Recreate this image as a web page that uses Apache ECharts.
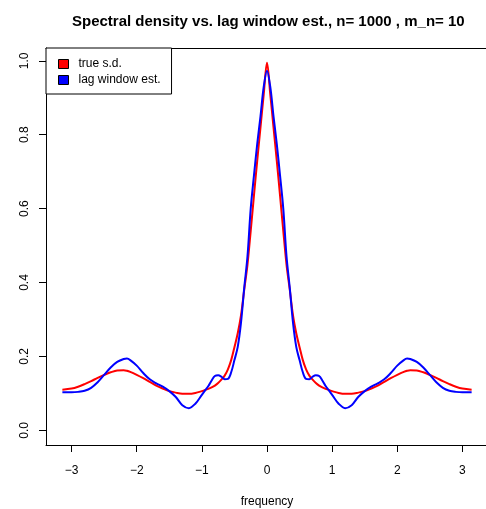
<!DOCTYPE html>
<html>
<head>
<meta charset="utf-8">
<script src="https://cdn.jsdelivr.net/npm/echarts@6/dist/echarts.min.js"></script>
<style>html,body{margin:0;padding:0;background:#fff;}#c{width:486px;height:509px;}</style>
</head>
<body>
<div id="c"></div>
<script>
// frequencies (positive half; curves are symmetric about 0)
const freqHalf = [0, 0.05, 0.1, 0.15, 0.2, 0.25, 0.3, 0.35, 0.4, 0.45, 0.5, 0.55, 0.6, 0.65, 0.7, 0.75, 0.8, 0.85, 0.9, 0.95, 1.0, 1.1, 1.2, 1.3, 1.4, 1.5, 1.6, 1.7, 1.8, 1.9, 2.0, 2.1, 2.15, 2.2, 2.3, 2.4, 2.5, 2.6, 2.7, 2.8, 2.9, 3.0, 3.1416];
const trueSD = [0.995, 0.91, 0.82, 0.73, 0.636, 0.54, 0.448, 0.38, 0.31, 0.262, 0.225, 0.19, 0.165, 0.148, 0.137, 0.128, 0.121, 0.116, 0.112, 0.109, 0.106, 0.101, 0.0986, 0.099, 0.102, 0.106, 0.113, 0.121, 0.131, 0.141, 0.150, 0.158, 0.161, 0.1626, 0.162, 0.157, 0.150, 0.142, 0.133, 0.125, 0.118, 0.113, 0.110];
const lagEst = [0.973, 0.93, 0.85, 0.775, 0.69, 0.60, 0.47, 0.385, 0.29, 0.225, 0.19, 0.157, 0.139, 0.138, 0.145, 0.149, 0.147, 0.135, 0.12, 0.108, 0.096, 0.072, 0.06, 0.068, 0.09, 0.106, 0.118, 0.127, 0.138, 0.155, 0.175, 0.19, 0.194, 0.193, 0.185, 0.17, 0.15, 0.13, 0.115, 0.107, 0.104, 0.103, 0.103];
const xTicks = [-3, -2, -1, 0, 1, 2, 3];
const yTicks = [0, 0.2, 0.4, 0.6, 0.8, 1.0];
const seriesNames = ['true s.d.', 'lag window est.'];
const seriesColors = ['#ff0000', '#0000ff'];

function fullCurve(vals) {
  const out = [];
  for (let i = freqHalf.length - 1; i > 0; i--) out.push([-freqHalf[i], vals[i]]);
  for (let i = 0; i < freqHalf.length; i++) out.push([freqHalf[i], vals[i]]);
  return out;
}

const chart = echarts.init(document.getElementById('c'), null, {renderer: 'canvas'});
const font = 'Liberation Sans, Arial, sans-serif';
chart.setOption({
  animation: false,
  backgroundColor: '#fff',
  title: {
    text: 'Spectral density vs. lag window est., n= 1000 , m_n= 10',
    left: 67, top: 9,
    textStyle: {fontFamily: font, fontSize: 15, fontWeight: 'bold', color: '#000'}
  },
  legend: {
    orient: 'vertical', left: 46, top: 48,
    padding: [10, 11, 8, 12], itemGap: 4,
    itemWidth: 10, itemHeight: 9, icon: 'rect',
    backgroundColor: '#fff', borderColor: '#000', borderWidth: 1,
    textStyle: {fontFamily: font, fontSize: 12, color: '#000', padding: [0, 0, 0, 5]},
    data: seriesNames.map((n, i) => ({name: n, itemStyle: {color: seriesColors[i], borderColor: '#000', borderWidth: 1}}))
  },
  grid: {left: 46, top: 48, width: 442, height: 397, show: false, containLabel: false, outerBoundsMode: 'none'},
  xAxis: [{
    type: 'value', min: -3.3929, max: 3.3929,
    name: 'frequency', nameLocation: 'middle', nameGap: 51,
    nameTextStyle: {fontFamily: font, fontSize: 12, color: '#000'},
    axisLine: {show: true, onZero: false, lineStyle: {color: '#000'}},
    axisTick: {show: true, length: 7, customValues: xTicks, lineStyle: {color: '#000'}},
    axisLabel: {customValues: xTicks, margin: 20, fontFamily: font, fontSize: 12, color: '#000',
      formatter: v => (v < 0 ? '\u2212' + Math.abs(v) : String(v))},
    splitLine: {show: false}
  }, {
    type: 'value', position: 'top', min: -3.3929, max: 3.3929,
    axisLine: {show: true, onZero: false, lineStyle: {color: '#000'}},
    axisTick: {show: false}, axisLabel: {show: false}, splitLine: {show: false}
  }],
  yAxis: {
    type: 'value', min: -0.0398, max: 1.0348,
    axisLine: {show: true, onZero: false, lineStyle: {color: '#000'}},
    axisTick: {show: true, length: 7, customValues: yTicks, lineStyle: {color: '#000'}},
    axisLabel: {customValues: yTicks, rotate: 90, margin: 15, fontFamily: font, fontSize: 12, color: '#000',
      formatter: v => v.toFixed(1)},
    splitLine: {show: false}
  },
  series: [trueSD, lagEst].map((vals, i) => ({
    name: seriesNames[i], type: 'line', data: fullCurve(vals),
    showSymbol: false, smooth: 0.35, clip: true,
    lineStyle: {color: seriesColors[i], width: 2},
    itemStyle: {color: seriesColors[i]}
  }))
});
</script>
</body>
</html>
